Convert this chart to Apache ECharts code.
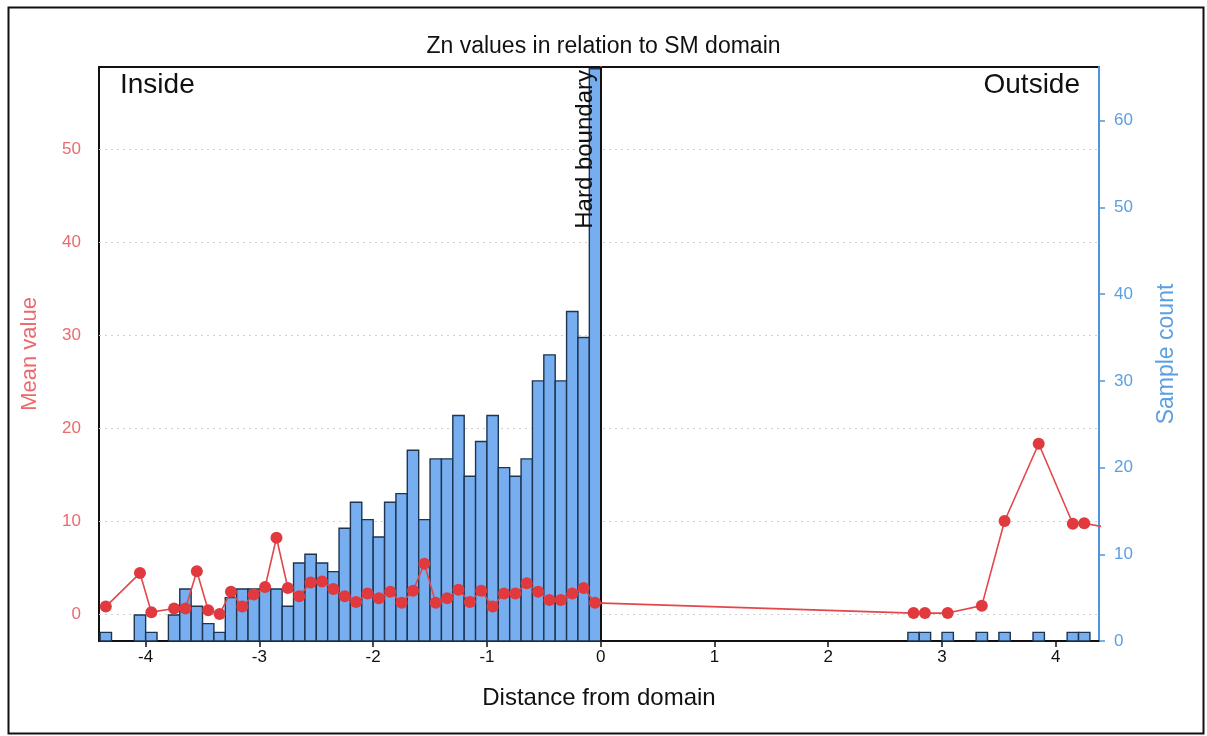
<!DOCTYPE html>
<html>
<head>
<meta charset="utf-8">
<script src="https://cdn.jsdelivr.net/npm/echarts@6/dist/echarts.min.js"></script>
<style>
html,body{margin:0;padding:0;background:#fff;}
#chart{width:1207px;height:736px;}
</style>
</head>
<body>
<div id="chart"></div>
<script>
// Histogram bins (left edge, width 0.1) and sample counts
const binLeft = [-4.4,-4.3,-4.2,-4.1,-4.0,-3.9,-3.8,-3.7,-3.6,-3.5,-3.4,-3.3,-3.2,-3.1,-3.0,-2.9,-2.8,-2.7,-2.6,-2.5,-2.4,-2.3,-2.2,-2.1,-2.0,-1.9,-1.8,-1.7,-1.6,-1.5,-1.4,-1.3,-1.2,-1.1,-1.0,-0.9,-0.8,-0.7,-0.6,-0.5,-0.4,-0.3,-0.2,-0.1,2.7,2.8,3.0,3.3,3.5,3.8,4.1,4.2];
const binCounts = [1,0,0,3,1,0,3,6,4,2,1,5,6,6,6,6,4,9,10,9,8,13,16,14,12,16,17,22,14,21,21,26,19,23,26,20,19,21,30,33,30,38,35,66,1,1,1,1,1,1,1,1];
const binWidth = 0.1;

// Mean value per bin (bin centres)
const meanX = [-4.35,-4.05,-3.95,-3.75,-3.65,-3.55,-3.45,-3.35,-3.25,-3.15,-3.05,-2.95,-2.85,-2.75,-2.65,-2.55,-2.45,-2.35,-2.25,-2.15,-2.05,-1.95,-1.85,-1.75,-1.65,-1.55,-1.45,-1.35,-1.25,-1.15,-1.05,-0.95,-0.85,-0.75,-0.65,-0.55,-0.45,-0.35,-0.25,-0.15,-0.05,2.75,2.85,3.05,3.35,3.55,3.85,4.15,4.25,4.45];
const meanVals = [0.8,4.4,0.2,0.6,0.6,4.6,0.4,0.0,2.4,0.8,2.1,2.9,8.2,2.8,1.9,3.4,3.5,2.7,1.9,1.3,2.2,1.7,2.4,1.2,2.5,5.4,1.2,1.7,2.6,1.3,2.5,0.8,2.2,2.2,3.3,2.4,1.5,1.5,2.2,2.8,1.2,0.1,0.1,0.1,0.9,10.0,18.3,9.7,9.75,9.3];

const xTicks = [-4,-3,-2,-1,0,1,2,3,4];
const meanTicks = [0,10,20,30,40,50];
const countTicks = [0,10,20,30,40,50,60];

const histData = binLeft.map((b, i) => [b, +(b + binWidth).toFixed(2), binCounts[i]]);
const lineData = meanX.map((x, i) => [x, meanVals[i]]);

const RED = '#e2474c', RED_TXT = '#ea6a6e', BLUE = '#4f95de', BLUE_TXT = '#5b9fe0';
const FONT = '"Liberation Sans", Arial, sans-serif';

const chart = echarts.init(document.getElementById('chart'), null, {renderer: 'canvas'});
chart.setOption({
  animation: false,
  backgroundColor: '#fff',
  textStyle: {fontFamily: FONT},
  title: {
    text: 'Zn values in relation to SM domain',
    left: 'center', top: 30,
    textStyle: {fontFamily: FONT, fontSize: 23, fontWeight: 'normal', color: '#111'}
  },
  grid: {left: 99, right: 108, top: 67, bottom: 95, show: true, borderColor: '#111', borderWidth: 2, backgroundColor: 'transparent'},
  xAxis: {
    type: 'value', min: -4.41, max: 4.38,
    name: 'Distance from domain', nameLocation: 'middle', nameGap: 45,
    nameTextStyle: {fontFamily: FONT, fontSize: 24, color: '#111'},
    axisLine: {show: true, onZero: false, lineStyle: {color: '#111', width: 2}},
    axisTick: {show: true, length: 6, lineStyle: {color: '#111', width: 1.5}, customValues: xTicks},
    axisLabel: {fontFamily: FONT, fontSize: 17, color: '#111', margin: 8, customValues: xTicks},
    splitLine: {show: false}
  },
  yAxis: [{
    type: 'value', min: -2.9, max: 58.8, position: 'left',
    name: 'Mean value', nameLocation: 'middle', nameGap: 58, nameRotate: 90,
    nameTextStyle: {fontFamily: FONT, fontSize: 22, color: RED_TXT},
    axisLine: {show: true, lineStyle: {color: RED, width: 2}},
    axisTick: {show: true, length: 6, lineStyle: {color: RED, width: 1.5}, customValues: meanTicks},
    axisLabel: {fontFamily: FONT, fontSize: 17, color: RED_TXT, margin: 18, customValues: meanTicks},
    splitLine: {show: true, lineStyle: {color: '#cfcfcf', type: [2, 4], width: 1}}
  }, {
    type: 'value', min: 0, max: 66.2, position: 'right',
    name: 'Sample count', nameLocation: 'middle', nameGap: 56, nameRotate: 90,
    nameTextStyle: {fontFamily: FONT, fontSize: 23, color: BLUE_TXT},
    axisLine: {show: true, lineStyle: {color: BLUE, width: 2}},
    axisTick: {show: true, length: 6, lineStyle: {color: BLUE, width: 1.5}, customValues: countTicks},
    axisLabel: {fontFamily: FONT, fontSize: 17, color: BLUE_TXT, margin: 15, customValues: countTicks},
    splitLine: {show: false}
  }],
  series: [{
    type: 'custom',
    name: 'Sample count',
    xAxisIndex: 0, yAxisIndex: 1,
    z: 2,
    encode: {x: [0, 1], y: 2},
    data: histData,
    renderItem: function (params, api) {
      const c = api.value(2);
      if (!c) return null;
      const p0 = api.coord([api.value(0), 0]);
      const p1 = api.coord([api.value(1), c]);
      return {
        type: 'rect',
        shape: {x: p0[0], y: p1[1], width: p1[0] - p0[0], height: p0[1] - p1[1]},
        style: {fill: '#76aef0', stroke: '#1e3450', lineWidth: 1.4}
      };
    },
    markLine: {
      silent: true, symbol: 'none',
      lineStyle: {color: '#111', width: 2, type: 'solid'},
      label: {show: true, formatter: 'Hard boundary', position: 'insideEndTop', distance: 3,
        fontFamily: FONT, fontSize: 24, color: '#111'},
      data: [{xAxis: 0}]
    }
  }, {
    type: 'line',
    name: 'Mean value',
    xAxisIndex: 0, yAxisIndex: 0,
    z: 5,
    data: lineData,
    symbol: 'circle', symbolSize: 12,
    lineStyle: {color: RED, width: 1.6},
    itemStyle: {color: '#e03a3f'},
    clip: true
  }],
  graphic: [
    {type: 'rect', left: 6, top: 5, z: 100, shape: {width: 1195, height: 726}, style: {fill: 'none', stroke: '#111', lineWidth: 2}},
    {type: 'text', left: 120, top: 71, z: 100, style: {text: 'Inside', fontFamily: FONT, fontSize: 28, fill: '#111'}},
    {type: 'text', right: 127, top: 71, z: 100, style: {text: 'Outside', fontFamily: FONT, fontSize: 28, fill: '#111'}}
  ]
});
</script>
</body>
</html>
